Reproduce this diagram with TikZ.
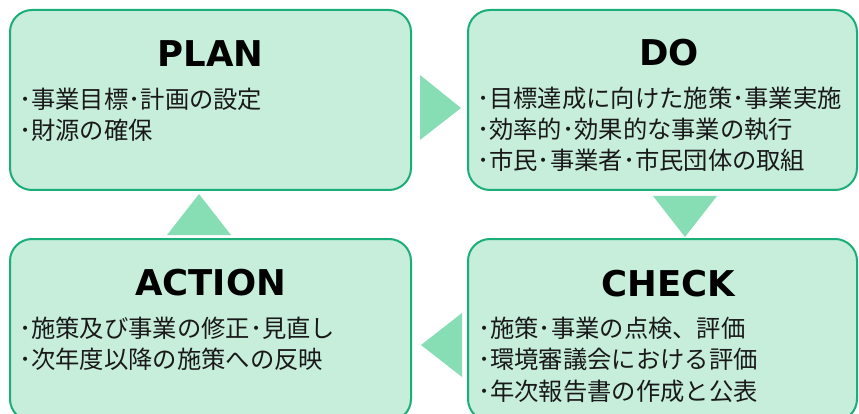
\documentclass[tikz,border=0pt]{standalone}
\usepackage{fontspec}
\newfontfamily\jpfont{Noto Sans CJK JP}
\newfontfamily\ttlfont{DejaVu Sans}
\definecolor{boxline}{HTML}{1AAE78}
\definecolor{boxfill}{HTML}{C6EEDA}
\definecolor{trifill}{HTML}{88DEB4}
\begin{document}
\begin{tikzpicture}[x=1pt,y=-1pt,
  pdcabox/.style={draw=boxline,fill=boxfill,line width=2pt,rounded corners=22pt,anchor=north west,inner sep=0pt,outer sep=0pt},
  ttl/.style={font=\ttlfont\bfseries\fontsize{35.5}{40}\selectfont,anchor=base,inner sep=0pt,text=black},
  item/.style={font=\jpfont\fontsize{24.3}{28}\selectfont,anchor=base west,inner sep=0pt,text=black!90},
  tri/.style={fill=trifill,draw=none}]
\useasboundingbox (0,0) rectangle (859,414);
\clip (0,0) rectangle (859,414);
% boxes
\node[pdcabox,minimum width=401pt,minimum height=180pt] (plan) at (10,10) {};
\node[pdcabox,minimum width=389pt,minimum height=180pt] (do) at (468,10) {};
\node[pdcabox,minimum width=401pt,minimum height=182pt] (action) at (10,239) {};
\node[pdcabox,minimum width=389pt,minimum height=182pt] (check) at (468,239) {};
% triangles
\fill[tri] (420,75) -- (420,140) -- (461,108) -- cycle;
\fill[tri] (653,196) -- (717,196) -- (685,237) -- cycle;
\fill[tri] (462,313) -- (462,377) -- (421,345) -- cycle;
\fill[tri] (167,235) -- (231,235) -- (199,194) -- cycle;
% titles
\node[ttl] (plant) at (210.5,67) {PLAN};
\node[ttl] (dot) at (669,66) {DO};
\node[ttl] (actiont) at (210.5,295) {ACTION};
\node[ttl] (checkt) at (668.5,296) {CHECK};
% items
\node[item] (p1) at (19,109) {･事業目標･計画の設定};
\node[item] (p2) at (19,140) {･財源の確保};
\node[item] (d1) at (477,108) {･目標達成に向けた施策･事業実施};
\node[item] (d2) at (477,139) {･効率的･効果的な事業の執行};
\node[item] (d3) at (477,170) {･市民･事業者･市民団体の取組};
\node[item] (c1) at (478,337) {･施策･事業の点検、評価};
\node[item] (c2) at (478,368) {･環境審議会における評価};
\node[item] (c3) at (478,400) {･年次報告書の作成と公表};
\node[item] (a1) at (19,337) {･施策及び事業の修正･見直し};
\node[item] (a2) at (19,368) {･次年度以降の施策への反映};
\end{tikzpicture}
\end{document}
